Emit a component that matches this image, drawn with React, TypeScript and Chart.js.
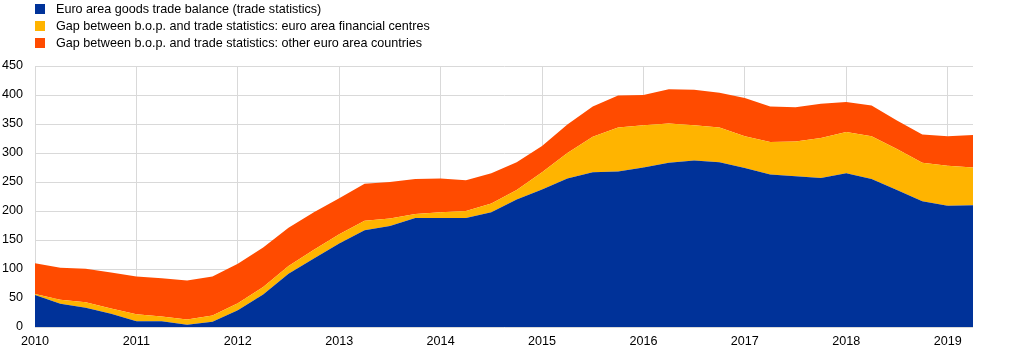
import React, { useEffect, useRef } from "react";
import { Chart, registerables } from "chart.js";

Chart.register(...registerables);

const quarters = [
  "2010Q1","2010Q2","2010Q3","2010Q4",
  "2011Q1","2011Q2","2011Q3","2011Q4",
  "2012Q1","2012Q2","2012Q3","2012Q4",
  "2013Q1","2013Q2","2013Q3","2013Q4",
  "2014Q1","2014Q2","2014Q3","2014Q4",
  "2015Q1","2015Q2","2015Q3","2015Q4",
  "2016Q1","2016Q2","2016Q3","2016Q4",
  "2017Q1","2017Q2","2017Q3","2017Q4",
  "2018Q1","2018Q2","2018Q3","2018Q4",
  "2019Q1","2019Q2",
];

const tradeBalance = [
  55, 40, 33, 23, 10, 10, 4, 9, 29, 56, 92, 118, 144, 167, 174, 188, 188, 188, 198, 220,
  237, 256, 267, 268, 275, 283, 287, 284, 274, 263, 260, 257, 265, 255, 236, 217, 209, 210,
];
const gapFinancialCentres = [
  2, 7, 9.5, 9, 12, 8, 9, 11, 12, 13, 13, 15, 16, 16, 13, 7, 10, 12, 15, 16,
  30, 44, 61, 76, 73, 68, 61, 60, 55, 56, 60, 69, 71, 74, 71, 66, 69, 65,
];
const gapOtherCountries = [
  53, 55, 58, 62, 65, 66, 67, 67, 68, 68, 66, 65, 62, 64, 63, 60, 58, 53, 52, 48,
  45, 49, 52, 55, 52, 59, 61, 60, 66, 61, 59, 59, 52, 53, 49, 49, 51, 56,
];

const seriesNames = [
  "Euro area goods trade balance (trade statistics)",
  "Gap between b.o.p. and trade statistics: euro area financial centres",
  "Gap between b.o.p. and trade statistics: other euro area countries",
];
const seriesColors = ["#003299", "#FFB400", "#FF4B00"];

const FONT = "Arial, 'Liberation Sans', sans-serif";
const FONT_SIZE = 12.6;

export default function App() {
  const ref = useRef<HTMLCanvasElement | null>(null);

  useEffect(() => {
    if (!ref.current) return;
    const values = [tradeBalance, gapFinancialCentres, gapOtherCountries];
    const chart = new Chart(ref.current, {
      type: "line",
      data: {
        labels: quarters,
        datasets: values.map((v, i) => ({
          label: seriesNames[i],
          data: v,
          backgroundColor: seriesColors[i],
          borderColor: seriesColors[i],
          borderWidth: 0,
          pointRadius: 0,
          tension: 0,
          fill: i === 0 ? "origin" : "-1",
        })),
      },
      options: {
        animation: false,
        responsive: false,
        maintainAspectRatio: false,
        layout: { padding: { top: 66, right: 36, left: 0, bottom: 0 } },
        plugins: {
          legend: { display: false },
          tooltip: { enabled: false },
        },
        scales: {
          x: {
            type: "category",
            offset: false,
            afterFit: (s: any) => {
              s.height = 27;
            },
            grid: {
              drawTicks: false,
              color: (ctx: any) => (ctx.index % 4 === 0 ? "#d9d9d9" : "rgba(0,0,0,0)"),
            },
            border: { display: false },
            ticks: {
              autoSkip: false,
              maxRotation: 0,
              padding: 7,
              color: "#000000",
              font: { family: FONT, size: FONT_SIZE },
              callback: (_v: any, i: number) => (i % 4 === 0 ? quarters[i].slice(0, 4) : ""),
            },
          },
          y: {
            stacked: true,
            min: 0,
            max: 450,
            afterFit: (s: any) => {
              s.width = 35;
            },
            grid: { drawTicks: false, color: "#d9d9d9" },
            border: { display: true, color: "#d9d9d9" },
            ticks: {
              stepSize: 50,
              padding: 12,
              color: "#000000",
              font: { family: FONT, size: FONT_SIZE },
            },
          },
        },
      },
    });
    return () => chart.destroy();
  }, []);

  return (
    <div style={{ position: "fixed", left: 0, top: 0, width: 1009, height: 354, background: "#fff" }}>
      <canvas ref={ref} width={1009} height={354} style={{ position: "absolute", left: 0, top: 0 }} />
      <div style={{ position: "absolute", left: 35, top: 0, fontFamily: FONT, fontSize: FONT_SIZE, color: "#000" }}>
        {seriesNames.map((n, i) => (
          <div key={n} style={{ display: "flex", alignItems: "center", height: 17 }}>
            <span style={{ display: "inline-block", width: 10, height: 10, background: seriesColors[i], marginRight: 11 }} />
            <span>{n}</span>
          </div>
        ))}
      </div>
    </div>
  );
}
